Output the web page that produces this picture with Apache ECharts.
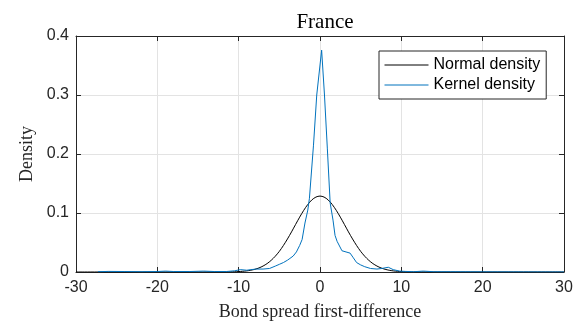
<!DOCTYPE html>
<html>
<head>
<meta charset="utf-8">
<script src="https://cdn.jsdelivr.net/npm/echarts@6/dist/echarts.min.js"></script>
<style>
  html, body { margin: 0; padding: 0; background: #fff; }
  #chart { width: 581px; height: 326px; }
</style>
</head>
<body>
<div id="chart"></div>
<script>
// Fitted normal density of the daily spread changes
const normalX = [-30, -14, -12, -11.5, -11, -10.5, -10, -9.5, -9, -8.5, -8, -7.5, -7, -6.5, -6, -5.5, -5, -4.5, -4, -3.5, -3, -2.5, -2, -1.5, -1, -0.5, 0,
  0.5, 1, 1.5, 2, 2.5, 3, 3.5, 4, 4.5, 5, 5.5, 6, 6.5, 7, 7.5, 8, 8.5, 9, 9.5, 10, 10.5, 11, 11.5, 12, 14, 30];
const normalY = [0, 0, 0.0001, 0.0001, 0.0002, 0.0004, 0.0007, 0.0012, 0.0019, 0.0030, 0.0046, 0.0069, 0.0101, 0.0143, 0.0198, 0.0267, 0.0350, 0.0449, 0.0560, 0.0680, 0.0806, 0.0930, 0.1045, 0.1145, 0.1222, 0.1270, 0.1287,
  0.1270, 0.1222, 0.1145, 0.1045, 0.0930, 0.0806, 0.0680, 0.0560, 0.0449, 0.0350, 0.0267, 0.0198, 0.0143, 0.0101, 0.0069, 0.0046, 0.0030, 0.0019, 0.0012, 0.0007, 0.0004, 0.0002, 0.0001, 0.0001, 0, 0];

// Kernel density estimate of the same changes
const kernelX = [-27.3, -26, -24, -22, -20, -19, -18, -16, -14.3, -13, -11.5, -10.5, -9.8, -9, -8.5, -7.8, -7, -6.2, -5.5, -5, -4.5, -4, -3.7, -3.3, -2.9, -2.5, -2.2, -1.85, -1.5, -1.3, -0.8, -0.4, 0.2,
  0.55, 0.9, 1.25, 1.6, 1.85, 2.1, 2.7, 3.2, 3.7, 4.1, 4.5, 5, 5.5, 6.2, 7, 7.6, 8.4, 9, 9.8, 10.5, 11.5, 12.7, 14, 16, 20, 25, 30];
const kernelY = [0.0005, 0.001, 0.0008, 0.0005, 0.0008, 0.0015, 0.0008, 0.0008, 0.0015, 0.0008, 0.0008, 0.002, 0.004, 0.003, 0.004, 0.005, 0.005, 0.006, 0.010, 0.013, 0.016, 0.020, 0.023, 0.027, 0.034, 0.045, 0.055, 0.083, 0.105, 0.125, 0.215, 0.30, 0.376,
  0.30, 0.21, 0.117, 0.088, 0.062, 0.052, 0.036, 0.034, 0.032, 0.024, 0.016, 0.012, 0.009, 0.006, 0.005, 0.006, 0.008, 0.004, 0.0015, 0.001, 0.0005, 0.0015, 0.0005, 0.0005, 0.0003, 0.0002, 0.0001];

const xTicks = [-30, -20, -10, 0, 10, 20, 30];
const yTicks = [0, 0.1, 0.2, 0.3, 0.4];

const pairs = (xs, ys) => xs.map((x, i) => [x, ys[i]]);

const AXIS = '#262626';
const GRID = '#e3e3e3';
const SANS = 'Liberation Sans, Arial, sans-serif';
const SERIF = 'Liberation Serif, Times New Roman, serif';

const chart = echarts.init(document.getElementById('chart'), null, { renderer: 'canvas' });

const baseAxis = {
  type: 'value',
  axisLine: { show: true, onZero: false, lineStyle: { color: AXIS, width: 1 } },
  axisTick: { show: true, inside: true, length: 5, lineStyle: { color: AXIS, width: 1 } },
  splitLine: { show: false }
};

chart.setOption({
  animation: false,
  backgroundColor: '#fff',
  title: {
    text: 'France',
    left: 320,
    top: 7,
    textAlign: 'center',
    textStyle: { fontFamily: SERIF, fontSize: 21, fontWeight: 'normal', color: '#000' }
  },
  grid: { left: 76, right: 17, top: 36, bottom: 54, containLabel: false },
  legend: {
    orient: 'vertical',
    left: 379,
    top: 51,
    padding: [6, 6, 6, 5],
    itemGap: 4,
    itemWidth: 44,
    itemHeight: 16,
    itemStyle: { opacity: 0 },
    lineStyle: { width: 1 },
    borderColor: AXIS,
    borderWidth: 1,
    backgroundColor: '#fff',
    textStyle: { fontFamily: SANS, fontSize: 16, color: '#000', padding: [0, 0, 0, 0] },
    data: ['Normal density', 'Kernel density']
  },
  xAxis: [
    Object.assign({}, baseAxis, {
      position: 'bottom', min: -30, max: 30, interval: 10,
      axisLabel: { show: true, margin: 8, fontFamily: SANS, fontSize: 16, color: AXIS,
        customValues: xTicks },
      splitLine: { show: true, lineStyle: { color: GRID, width: 1 } },
      name: 'Bond spread first-difference',
      nameLocation: 'middle',
      nameGap: 31,
      nameTextStyle: { fontFamily: SERIF, fontSize: 18, color: AXIS }
    }),
    Object.assign({}, baseAxis, {
      position: 'top', min: -30, max: 30, interval: 10,
      axisLabel: { show: false }
    })
  ],
  yAxis: [
    Object.assign({}, baseAxis, {
      position: 'left', min: 0, max: 0.4, interval: 0.1,
      axisLabel: { show: true, margin: 7, fontFamily: SANS, fontSize: 16, color: AXIS,
        customValues: yTicks,
        formatter: v => String(Math.round(v * 10) / 10) },
      splitLine: { show: true, lineStyle: { color: GRID, width: 1 } },
      name: 'Density',
      nameLocation: 'middle',
      nameGap: 38,
      nameTextStyle: { fontFamily: SERIF, fontSize: 18, color: AXIS }
    }),
    Object.assign({}, baseAxis, {
      position: 'right', min: 0, max: 0.4, interval: 0.1,
      axisLabel: { show: false }
    })
  ],
  series: [
    {
      name: 'Normal density',
      type: 'line',
      data: pairs(normalX, normalY),
      smooth: 0.3,
      symbol: 'none',
      lineStyle: { color: '#000000', width: 1 },
      itemStyle: { color: '#000000' },
      z: 3
    },
    {
      name: 'Kernel density',
      type: 'line',
      data: pairs(kernelX, kernelY),
      symbol: 'none',
      lineStyle: { color: '#0072BD', width: 1 },
      itemStyle: { color: '#0072BD' },
      z: 4
    }
  ]
});
</script>
</body>
</html>
